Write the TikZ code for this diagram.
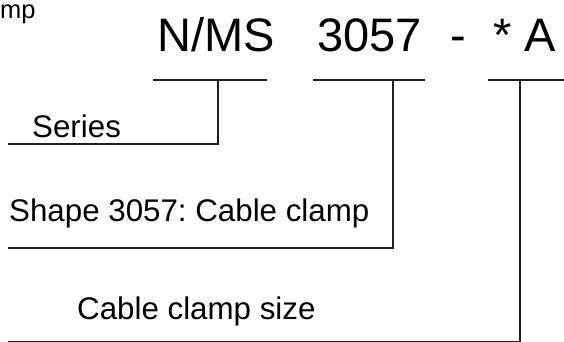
\documentclass[tikz,border=0pt]{standalone}
\usepackage{fontspec}
\setmainfont{Liberation Sans}
\usetikzlibrary{positioning}
\frenchspacing
\definecolor{leadergray}{rgb}{0.12,0.12,0.14}
\tikzset{
  code/.style={inner sep=0pt,anchor=base west,font=\fontsize{47}{56}\selectfont},
  legend/.style={inner sep=0pt,anchor=base west,font=\fontsize{31.3}{36}\selectfont},
  leader/.style={line width=1.2pt,leadergray}
}
\begin{document}
\begin{tikzpicture}[x=1pt,y=-1pt]
    \useasboundingbox (0,0) rectangle (564,342);
    % Title (cut off)
    \node[legend,font=\fontsize{25.5}{30}\selectfont] (title) at (0,18.5) {mp};
    % Code
    \node[code] (series) at (157,52) {N/MS};
    \node[code] (shape) at (317,52) {3057};
    \node[code] (dash) at (450,52) {-};
    \node[code] (size) at (493,52) {* A};
    % Labels
    \node[legend] (serieslbl) at (32,137) {Series};
    \node[legend] (shapelbl) at (9,221) {Shape 3057: Cable clamp};
    \node[legend] (sizelbl) at (77,319) {Cable clamp size};
    % Underlines
    \coordinate (seriesA) at (153,80);  \coordinate (seriesB) at (267,80);
    \coordinate (shapeA) at (313,80);   \coordinate (shapeB) at (425,80);
    \coordinate (sizeA) at (488,80);    \coordinate (sizeB) at (570,80);
    \draw[leader] (seriesA) -- (seriesB);
    \draw[leader] (shapeA) -- (shapeB);
    \draw[leader] (sizeA) -- (sizeB);
    % Leaders
    \coordinate (seriesT) at (218,80);  \coordinate (seriesE) at (8,144);
    \coordinate (shapeT) at (393,80);   \coordinate (shapeE) at (8,248);
    \coordinate (sizeT) at (520,80);    \coordinate (sizeE) at (8,341.5);
    \draw[leader] (seriesT) |- (seriesE);
    \draw[leader] (shapeT) |- (shapeE);
    \draw[leader] (sizeT) |- (sizeE);
\end{tikzpicture}
\end{document}
